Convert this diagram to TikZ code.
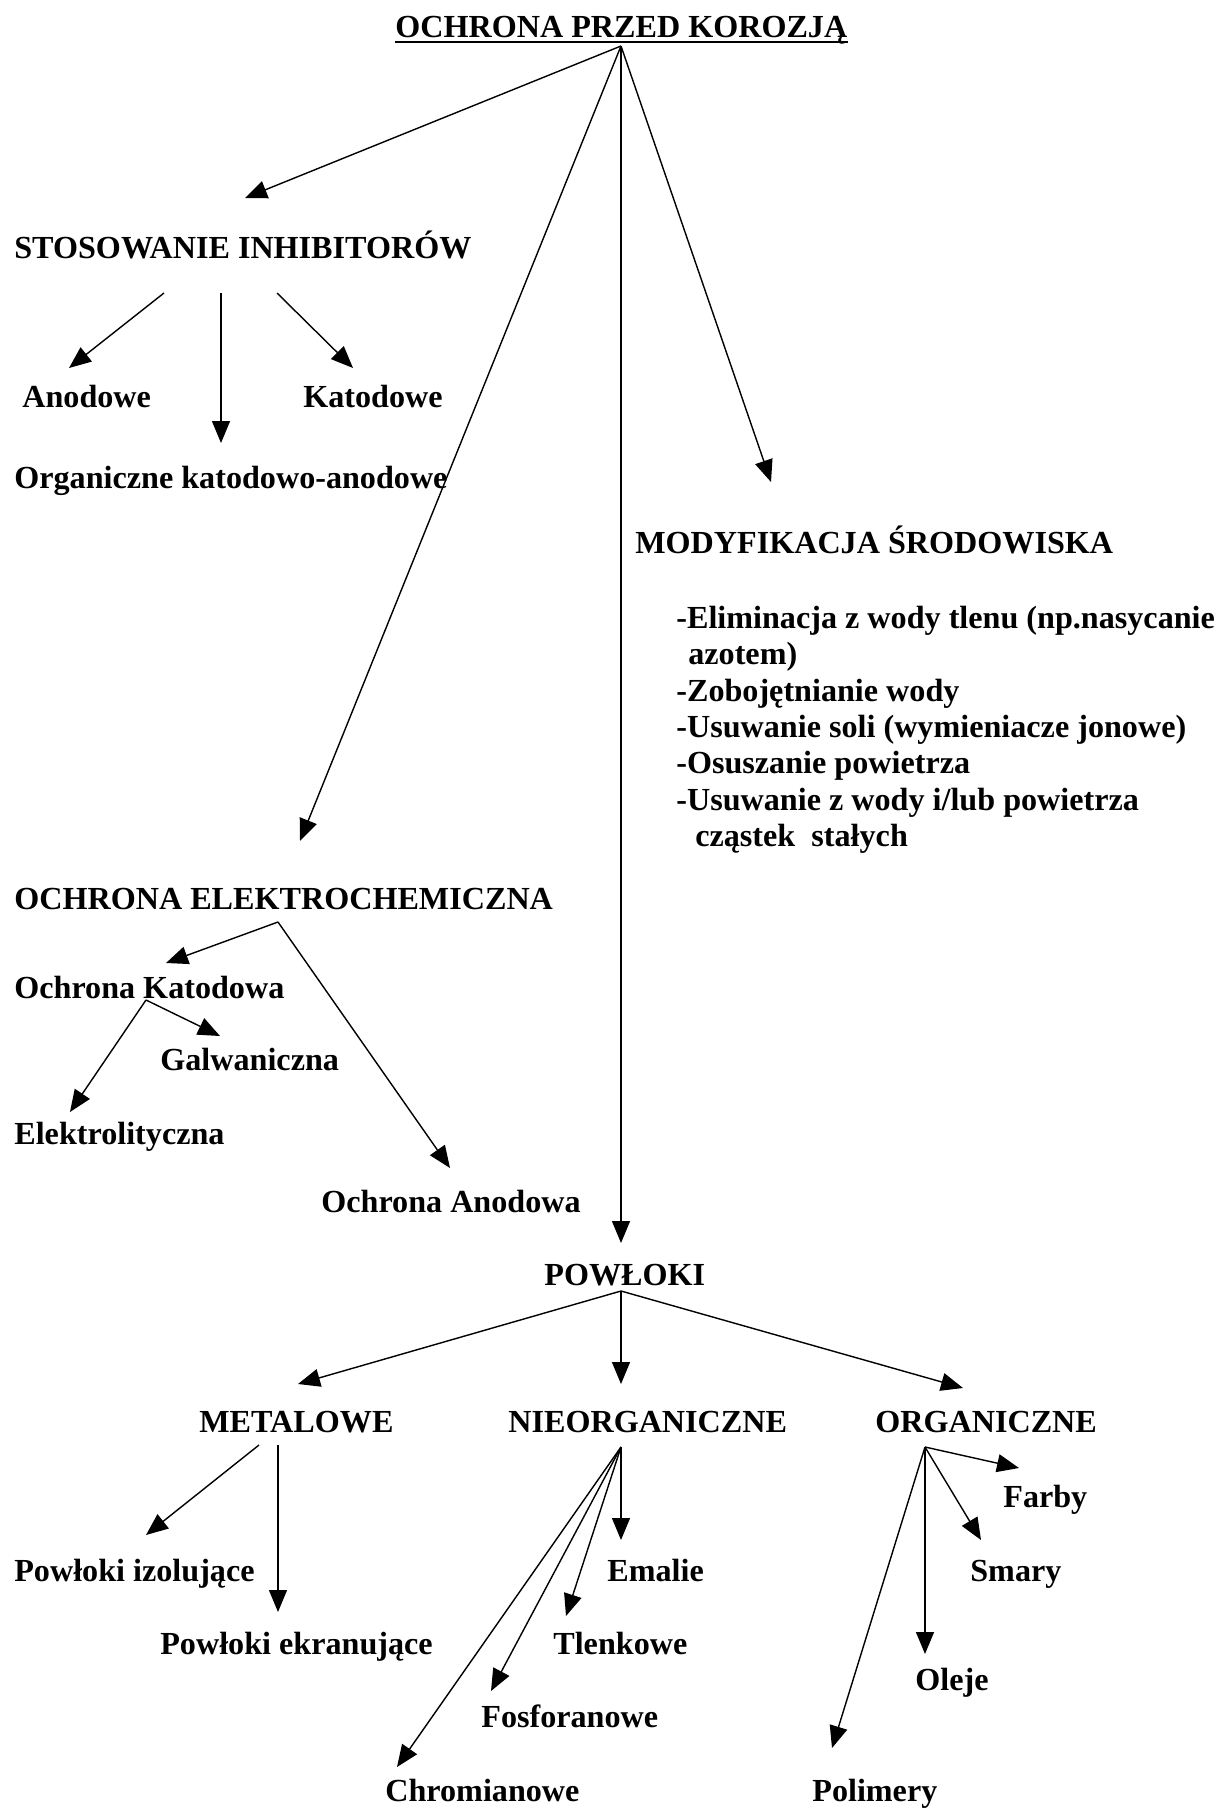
\documentclass[tikz,border=0pt]{standalone}
\usepackage{fontspec}
\setmainfont{Liberation Serif}
\usetikzlibrary{arrows.meta}

\begin{document}
\begin{tikzpicture}[
    x=0.02cm, y=-0.02cm,
    txt/.style={anchor=base west, inner sep=0pt, font=\fontsize{18.3}{21}\selectfont\bfseries},
    link/.style={-{Triangle[length=0.44cm, width=0.36cm]}, line width=0.8pt}
]
\useasboundingbox (0,0) rectangle (1215,1809);

% Title
\node[txt] (title) at (395,37) {OCHRONA PRZED KOROZJĄ};
\draw[line width=1.3pt] ([yshift=-0.1cm]title.base west) -- ([yshift=-0.1cm]title.base east);

% Main branches
\node[txt] (stos) at (14,258) {STOSOWANIE INHIBITORÓW};
\node[txt] (mod) at (635,553) {MODYFIKACJA ŚRODOWISKA};
\node[txt] (elek) at (14,909) {OCHRONA ELEKTROCHEMICZNA};
\node[txt] (pow) at (544,1285) {POWŁOKI};

\coordinate (top) at (621,46);
\coordinate (stos-in) at (245,198);
\coordinate (elek-in) at (300,841);
\coordinate (mod-in) at (771,482);
\coordinate (pow-in) at (621,1243);
\foreach \c in {stos-in, elek-in, mod-in, pow-in}
    \draw[link] (top) -- (\c);

% Inhibitors
\node[txt] (anod) at (22,407) {Anodowe};
\node[txt] (katod) at (303,407) {Katodowe};
\node[txt] (orgka) at (14,488) {Organiczne katodowo-anodowe};
\coordinate (s1) at (164,293); \coordinate (anod-in) at (69,368);
\coordinate (s2) at (221,293); \coordinate (orgka-in) at (221,443);
\coordinate (s3) at (277,293); \coordinate (katod-in) at (353,368);
\draw[link] (s1) -- (anod-in);
\draw[link] (s2) -- (orgka-in);
\draw[link] (s3) -- (katod-in);

% Environment
\node[txt] (mod1) at (676,628) {-Eliminacja z wody tlenu (np.nasycanie};
\node[txt] (mod2) at (688,664) {azotem)};
\node[txt] (mod3) at (676,701) {-Zobojętnianie wody};
\node[txt] (mod4) at (676,737) {-Usuwanie soli (wymieniacze jonowe)};
\node[txt] (mod5) at (676,773) {-Osuszanie powietrza};
\node[txt] (mod6) at (676,810) {-Usuwanie z wody i/lub powietrza};
\node[txt] (mod7) at (695,846) {cząstek\ \ stałych};

% Electrochemical protection
\node[txt] (katw) at (14,998) {Ochrona Katodowa};
\node[txt] (galw) at (160,1070) {Galwaniczna};
\node[txt] (elit) at (14,1144) {Elektrolityczna};
\node[txt] (anodw) at (321,1212) {Ochrona Anodowa};
\coordinate (elek-out) at (278,922);
\coordinate (katw-in) at (166,963);
\coordinate (anodw-in) at (450,1168);
\draw[link] (elek-out) -- (katw-in);
\draw[link] (elek-out) -- (anodw-in);
\coordinate (katw-out) at (146,1000);
\coordinate (galw-in) at (220,1036);
\coordinate (elit-in) at (70,1112);
\draw[link] (katw-out) -- (galw-in);
\draw[link] (katw-out) -- (elit-in);

% Coatings
\node[txt] (met) at (199,1432) {METALOWE};
\node[txt] (nie) at (508,1432) {NIEORGANICZNE};
\node[txt] (org) at (875,1432) {ORGANICZNE};
\coordinate (pow-out) at (621,1291);
\coordinate (met-in) at (298,1384);
\coordinate (nie-in) at (621,1384);
\coordinate (org-in) at (963,1388);
\foreach \c in {met-in, nie-in, org-in}
    \draw[link] (pow-out) -- (\c);

% Metallic
\node[txt] (izol) at (14,1581) {Powłoki izolujące};
\node[txt] (ekran) at (160,1654) {Powłoki ekranujące};
\coordinate (m1) at (259,1445); \coordinate (izol-in) at (146,1535);
\coordinate (m2) at (278,1445); \coordinate (ekran-in) at (278,1612);
\draw[link] (m1) -- (izol-in);
\draw[link] (m2) -- (ekran-in);

% Inorganic
\node[txt] (emal) at (607,1581) {Emalie};
\node[txt] (tlen) at (553,1654) {Tlenkowe};
\node[txt] (fosf) at (481,1727) {Fosforanowe};
\node[txt] (chrom) at (385,1801) {Chromianowe};
\coordinate (nie-out) at (621,1447);
\coordinate (emal-in) at (621,1540);
\coordinate (tlen-in) at (566,1616);
\coordinate (fosf-in) at (491,1691);
\coordinate (chrom-in) at (397,1767);
\foreach \c in {emal-in, tlen-in, fosf-in, chrom-in}
    \draw[link] (nie-out) -- (\c);

% Organic
\node[txt] (farb) at (1003,1507) {Farby};
\node[txt] (smar) at (970,1581) {Smary};
\node[txt] (olej) at (915,1690) {Oleje};
\node[txt] (poli) at (812,1801) {Polimery};
\coordinate (org-out) at (925,1447);
\coordinate (farb-in) at (1019,1468);
\coordinate (smar-in) at (981,1540);
\coordinate (olej-in) at (925,1654);
\coordinate (poli-in) at (832,1748);
\foreach \c in {farb-in, smar-in, olej-in, poli-in}
    \draw[link] (org-out) -- (\c);

\end{tikzpicture}
\end{document}
